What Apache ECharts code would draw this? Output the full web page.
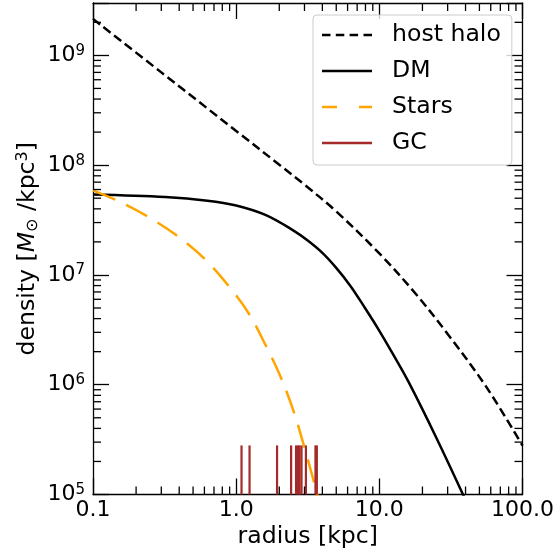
<!DOCTYPE html>
<html><head><meta charset="utf-8">
<script src="https://cdn.jsdelivr.net/npm/echarts@6/dist/echarts.min.js"></script>
<style>html,body{margin:0;padding:0;background:#fff}#c{width:557px;height:557px}</style>
</head><body><div id="c"></div>
<script>
// ---- data ----
const hostRadius  = [0.1, 0.3, 1, 2, 3, 5, 10, 18, 30, 56, 100];
const hostDensity = [2.15e9, 7.0e8, 2.05e8, 1.01e8, 6.64e7, 3.79e7, 1.57e7, 6.7e6, 2.9e6, 9.5e5, 2.79e5];

const dmRadius  = [0.1, 0.32, 0.63, 1.0, 1.6, 2.5, 3.16, 4.0, 5.0, 6.3, 7.9, 10, 12.6, 16, 25, 40, 50];
const dmDensity = [5.4e7, 5.12e7, 4.75e7, 4.29e7, 3.52e7, 2.55e7, 2.06e7, 1.59e7, 1.16e7, 7.9e6, 5.05e6, 3.1e6, 1.85e6, 1.06e6, 3.29e5, 8.9e4, 4.6e4];

const starsRadius  = [0.1, 0.16, 0.25, 0.4, 0.63, 1.0, 1.26, 1.58, 2.0, 2.5, 3.16, 3.55, 4.0];
const starsDensity = [5.89e7, 4.53e7, 3.31e7, 2.2e7, 1.32e7, 6.5e6, 4.2e6, 2.39e6, 1.26e6, 5.9e5, 2.1e5, 1.2e5, 6.6e4];

const gcRadius = [1.09, 1.24, 1.93, 2.42, 2.62, 2.70, 2.77, 2.86, 3.07, 3.58, 3.66];
const gcMarkTop = 2.8e5;

const xTickLabels = {'-1': '0.1', '0': '1.0', '1': '10.0', '2': '100.0'};
const X_MIN = 0.1, X_MAX = 100, Y_MIN = 1e5, Y_MAX = 3e9;

// ---- chart ----
const FONT = 'DejaVu Sans';
const zip = (a, b) => a.map((v, i) => [v, b[i]]);
const isPow = v => Math.abs(Math.log10(v) - Math.round(Math.log10(v))) < 1e-6;

const xMinor = [], yMinor = [];
for (let e = -1; e < 2; e++) for (let m = 2; m <= 9; m++) xMinor.push([m * Math.pow(10, e), Y_MIN]);
for (let e = 5; e <= 9; e++) for (let m = 2; m <= 9; m++) { const v = m * Math.pow(10, e); if (v < Y_MAX) yMinor.push([X_MIN, v]); }

const axisLine = {show: true, onZero: false, lineStyle: {color: '#000', width: 1.3}};
const majorTick = {show: true, inside: true, length: 16, lineStyle: {color: '#000', width: 1.3}};

const ICON_DASH = 'path://M0,0H8.5V2.5H0Z M13.8,0H22.3V2.5H13.8Z M27.6,0H36.1V2.5H27.6Z M41.5,0H50V2.5H41.5Z';
const ICON_SOLID = 'path://M0,0H50V2.5H0Z';
const ICON_LONGDASH = 'path://M0,0H15V2.5H0Z M37,0H50V2.5H37Z';

const chart = echarts.init(document.getElementById('c'), null, {renderer: 'canvas'});
chart.setOption({
  animation: false,
  backgroundColor: '#fff',
  grid: {left: 93, right: 32, top: 3, bottom: 62.5, containLabel: false},
  xAxis: [{
    type: 'log', logBase: 10, min: X_MIN, max: X_MAX, position: 'bottom',
    axisLine, axisTick: majorTick, splitLine: {show: false},
    axisLabel: {show: true, margin: 5, color: '#000', fontSize: 22, fontFamily: FONT, showMinLabel: true, showMaxLabel: true,
      formatter: v => isPow(v) ? (xTickLabels[String(Math.round(Math.log10(v)))] || '') : ''},
    name: 'radius [kpc]', nameLocation: 'middle', nameGap: 30, nameMoveOverlap: false,
    nameTextStyle: {color: '#000', fontSize: 23.6, fontFamily: FONT}
  }, {
    type: 'log', logBase: 10, min: X_MIN, max: X_MAX, position: 'top',
    axisLine, axisTick: majorTick, splitLine: {show: false}, axisLabel: {show: false}
  }],
  yAxis: [{
    type: 'log', logBase: 10, min: Y_MIN, max: Y_MAX, position: 'left',
    axisLine, axisTick: majorTick, splitLine: {show: false},
    axisLabel: {show: true, margin: 8, color: '#000', showMinLabel: true, showMaxLabel: true,
      formatter: v => isPow(v) ? '{b|10}{s|' + Math.round(Math.log10(v)) + '}' : '',
      rich: {
        b: {fontSize: 22, lineHeight: 24, fontFamily: FONT, color: '#000'},
        s: {fontSize: 15, lineHeight: 12, verticalAlign: 'top', fontFamily: FONT, color: '#000'}
      }},
    name: '{t|density [}{i|M}{sub|⊙}{t| /kpc}{sup|3}{t|]}', nameLocation: 'middle', nameGap: 52, nameRotate: 90,
    nameMoveOverlap: false,
    nameTextStyle: {color: '#000', rich: {
      t: {fontSize: 23.6, lineHeight: 26, fontFamily: FONT, color: '#000'},
      i: {fontSize: 23.6, lineHeight: 26, fontFamily: FONT, fontStyle: 'italic', color: '#000'},
      sub: {fontSize: 16, lineHeight: 14, verticalAlign: 'bottom', fontFamily: FONT, color: '#000'},
      sup: {fontSize: 16, lineHeight: 12, verticalAlign: 'top', fontFamily: FONT, color: '#000'}
    }}
  }, {
    type: 'log', logBase: 10, min: Y_MIN, max: Y_MAX, position: 'right',
    axisLine, axisTick: majorTick, splitLine: {show: false}, axisLabel: {show: false}
  }],
  legend: {
    data: [
      {name: 'host halo', icon: ICON_DASH},
      {name: 'DM', icon: ICON_SOLID},
      {name: 'Stars', icon: ICON_LONGDASH},
      {name: 'GC', icon: ICON_SOLID}
    ],
    orient: 'vertical', left: 313, top: 15, itemWidth: 50, itemHeight: 14, itemGap: 12,
    padding: [8, 11, 10, 9], backgroundColor: 'rgba(255,255,255,0.8)', borderColor: '#cccccc', borderWidth: 1, borderRadius: 4,
    selectedMode: false, itemStyle: {borderWidth: 0},
    textStyle: {fontSize: 23.6, lineHeight: 24, fontFamily: FONT, color: '#000', padding: [0, 0, 0, 15]}
  },
  series: [
    {type: 'line', name: 'host halo', data: zip(hostRadius, hostDensity), symbol: 'none', showSymbol: false, smooth: 0.35,
      lineStyle: {color: '#000', width: 2.5, type: [9, 4.5]}, itemStyle: {color: '#000'}, z: 3},
    {type: 'line', name: 'DM', data: zip(dmRadius, dmDensity), symbol: 'none', showSymbol: false, smooth: 0.35,
      lineStyle: {color: '#000', width: 2.5, type: 'solid'}, itemStyle: {color: '#000'}, z: 3},
    {type: 'line', name: 'Stars', data: zip(starsRadius, starsDensity), symbol: 'none', showSymbol: false, smooth: 0.35,
      lineStyle: {color: '#ffa500', width: 2.5, type: [24, 12]}, itemStyle: {color: '#ffa500'}, z: 3},
    {type: 'custom', name: 'GC', data: gcRadius.map(r => [r, gcMarkTop]), itemStyle: {color: '#a52a2a'}, silent: true, z: 4,
      renderItem: (params, api) => {
        const r = api.value(0);
        const p0 = api.coord([r, Y_MIN]), p1 = api.coord([r, api.value(1)]);
        return {type: 'line', shape: {x1: p0[0], y1: p0[1], x2: p1[0], y2: p1[1]}, style: {stroke: '#a52a2a', lineWidth: 2.2}};
      }},
    {type: 'custom', name: 'xminor', data: xMinor, silent: true, z: 5,
      renderItem: (params, api) => {
        const v = api.value(0);
        const b = api.coord([v, Y_MIN]), t = api.coord([v, Y_MAX]);
        return {type: 'group', children: [
          {type: 'line', shape: {x1: b[0], y1: b[1], x2: b[0], y2: b[1] - 8}, style: {stroke: '#000', lineWidth: 1.3}},
          {type: 'line', shape: {x1: t[0], y1: t[1], x2: t[0], y2: t[1] + 8}, style: {stroke: '#000', lineWidth: 1.3}}
        ]};
      }},
    {type: 'custom', name: 'yminor', data: yMinor, silent: true, z: 5,
      renderItem: (params, api) => {
        const v = api.value(1);
        const l = api.coord([X_MIN, v]), r = api.coord([X_MAX, v]);
        return {type: 'group', children: [
          {type: 'line', shape: {x1: l[0], y1: l[1], x2: l[0] + 8, y2: l[1]}, style: {stroke: '#000', lineWidth: 1.3}},
          {type: 'line', shape: {x1: r[0], y1: r[1], x2: r[0] - 8, y2: r[1]}, style: {stroke: '#000', lineWidth: 1.3}}
        ]};
      }}
  ]
});
</script>
</body></html>
